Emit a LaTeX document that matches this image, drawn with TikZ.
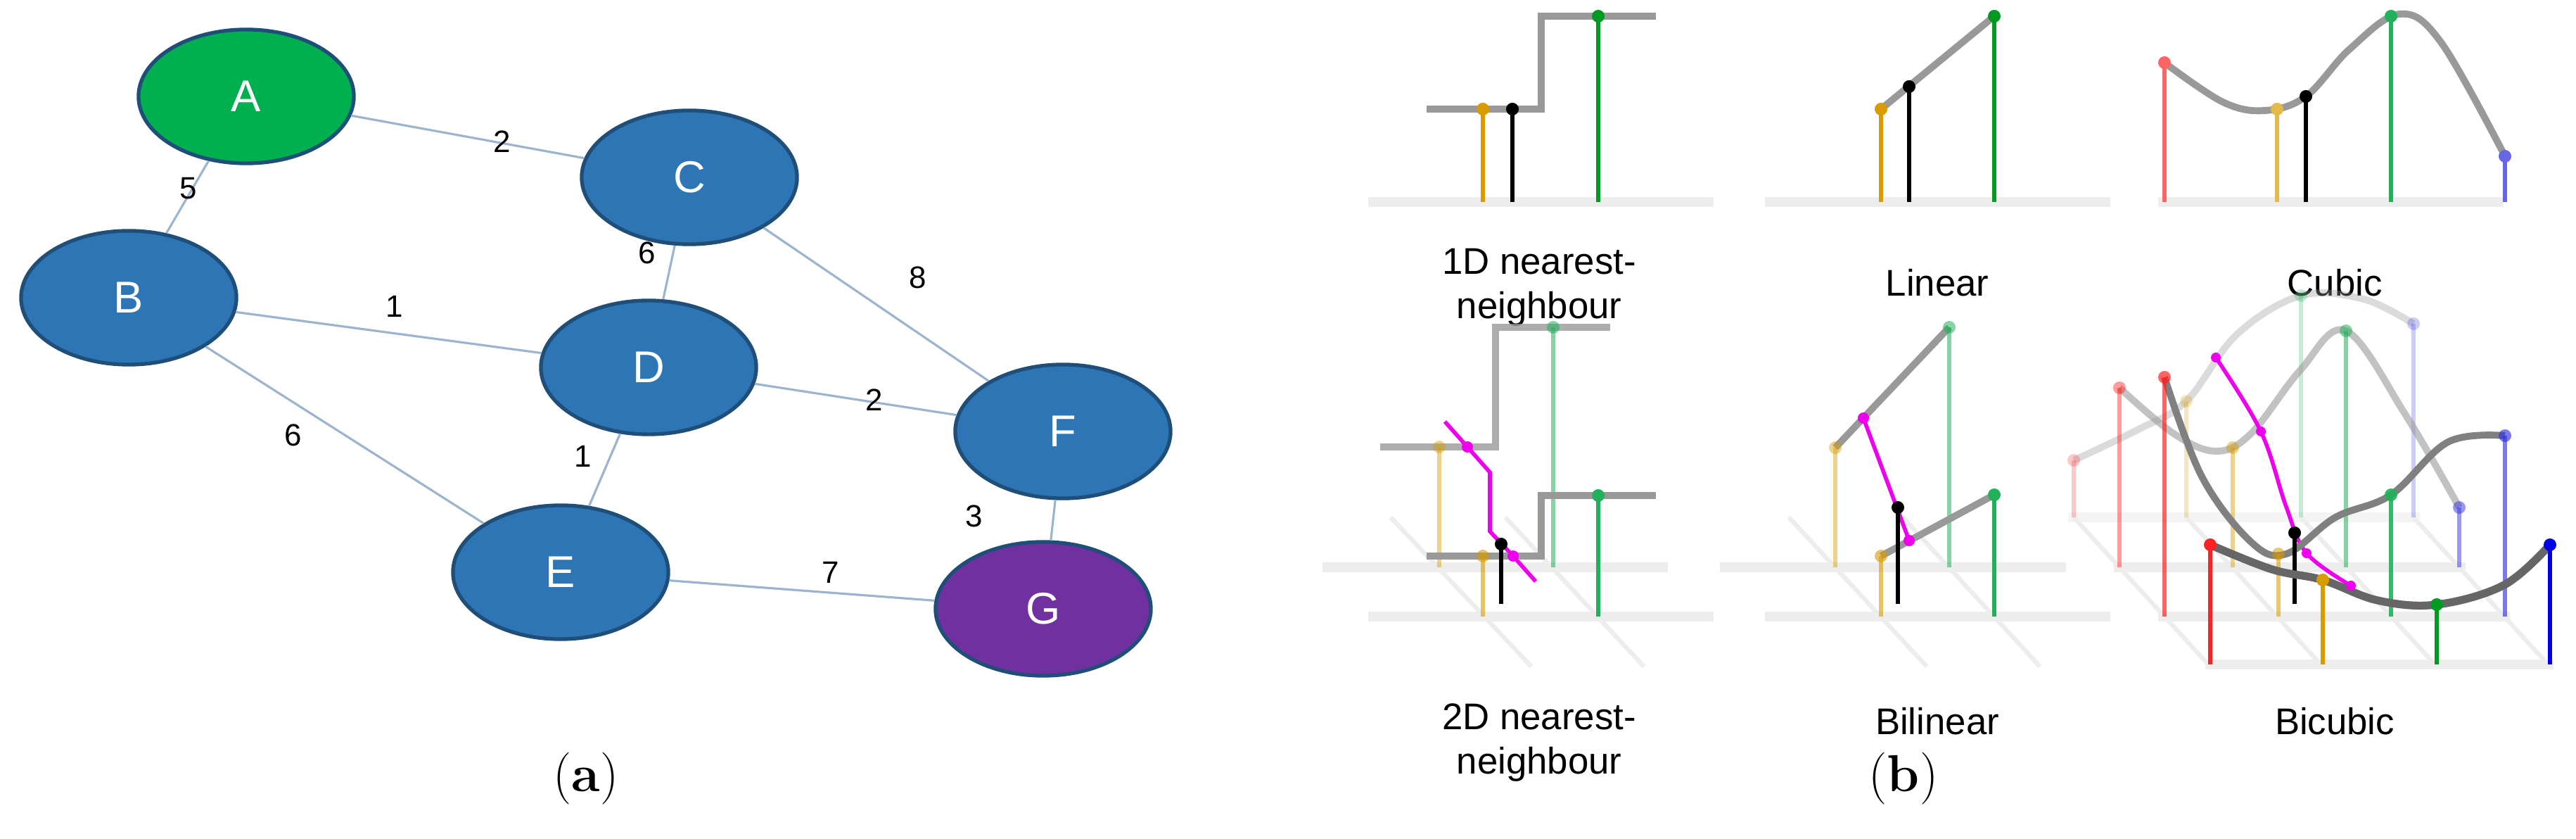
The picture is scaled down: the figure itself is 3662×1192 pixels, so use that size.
\documentclass[tikz,border=0pt]{standalone}
\usepackage{fontspec}
\setmainfont{Liberation Sans}
\usetikzlibrary{shapes.geometric}
\newfontfamily\lmserif{Latin Modern Roman}
\definecolor{nblue}{HTML}{2E75B6}
\definecolor{nborder}{HTML}{1F4E79}
\definecolor{ngreen}{HTML}{00B050}
\definecolor{npurple}{HTML}{7030A0}
\definecolor{edgec}{HTML}{9DB4CE}
\definecolor{cor}{HTML}{D89B00}
\definecolor{cgr}{HTML}{009922}
\definecolor{cgr2}{HTML}{22B05A}
\definecolor{cred}{HTML}{FF2222}
\definecolor{cblu}{HTML}{3333E0}
\definecolor{cmag}{HTML}{EE00EE}
\newcommand\mystem[5]{\draw[stem,#4,opacity=#5] (#1,#2) -- (#1,#3); \fill[#4,opacity=#5] (#1,#3) circle (9);}
\tikzset{
  gnode/.style={ellipse,draw=nborder,line width=1.5pt,fill=nblue,minimum width=3.06cm,minimum height=1.9cm,text=white,font=\fontsize{18}{18}\selectfont},
  gedge/.style={edgec,line width=0.9pt},
  elab/.style={font=\fontsize{12.5}{12.5}\selectfont,text=black},
  stem/.style={line width=1.6pt},
  base/.style={line width=4pt,black!7},
  floor/.style={line width=1.8pt,black!7},
  curve/.style={line width=2.8pt,black!40},
  blab/.style={font=\fontsize{15}{18}\selectfont,align=center},
  sublab/.style={font=\lmserif\fontsize{21}{21}\selectfont}
}
\begin{document}
\begin{tikzpicture}[x=0.01cm,y=-0.01cm]
\useasboundingbox (0,0) rectangle (3662,1192);
% ---------- panel (a)
\node[gnode,fill=ngreen] (A) at (350,137) {A};
\node[gnode] (C) at (980,252) {C};
\node[gnode] (B) at (183,423) {B};
\node[gnode] (D) at (922,522) {D};
\node[gnode] (F) at (1511,613) {F};
\node[gnode] (E) at (797,813) {E};
\node[gnode,fill=npurple] (G) at (1483,865) {G};
\draw[gedge] (A) -- (C);
\draw[gedge] (A) -- (B);
\draw[gedge] (C) -- (D);
\draw[gedge] (C) -- (F);
\draw[gedge] (B) -- (D);
\draw[gedge] (D) -- (F);
\draw[gedge] (B) -- (E);
\draw[gedge] (D) -- (E);
\draw[gedge] (F) -- (G);
\draw[gedge] (E) -- (G);
\node[elab] (l1) at (714,201) {2};
\node[elab] (l2) at (268,268) {5};
\node[elab] (l3) at (920,359) {6};
\node[elab] (l4) at (1305,394) {8};
\node[elab] (l5) at (561,435) {1};
\node[elab] (l6) at (1243,568) {2};
\node[elab] (l7) at (417,618) {6};
\node[elab] (l8) at (829,648) {1};
\node[elab] (l9) at (1385,733) {3};
\node[elab] (l10) at (1181,813) {7};
\node[sublab] (sa) at (833,1106) {(\textbf{a})};
\node[sublab] (sb) at (2706,1106) {(\textbf{b})};
% ---------- panel 1: 1D nearest
\draw[base] (1945,287) -- (2436,287);
\draw[curve] (2028,155) -- (2191,155) -- (2191,23) -- (2354,23);
\mystem{2108}{287}{155}{cor}{1}
\mystem{2150}{287}{155}{black}{1}
\mystem{2272}{287}{23}{cgr}{1}
\node[blab] (t1) at (2188,408) {1D nearest-\\neighbour};
% ---------- panel 2: linear
\draw[base] (2509,287) -- (3000,287);
\draw[curve] (2674,155) -- (2835,23);
\mystem{2674}{287}{155}{cor}{1}
\mystem{2714}{287}{123}{black}{1}
\mystem{2835}{287}{23}{cgr}{1}
\node[blab] (t2) at (2754,402) {Linear};
% ---------- panel 3: cubic
\draw[base] (3068,287) -- (3559,287);
\draw[curve] plot[smooth,tension=0.6] coordinates {(3077,89) (3160,145) (3220,157) (3278,137) (3340,70) (3411,20) (3470,60) (3561,222)};
\mystem{3077}{287}{89}{cred!70}{1}
\mystem{3237}{287}{155}{cor!70}{1}
\mystem{3278}{287}{137}{black}{1}
\mystem{3399}{287}{23}{cgr2}{1}
\mystem{3561}{287}{222}{cblu!75}{1}
\node[blab] (t3) at (3319,402) {Cubic};
% ---------- panel 4: 2D nearest
\draw[base] (1880,806) -- (2371,806);
\draw[base] (1945,876) -- (2436,876);
\draw[floor] (1977,735) -- (2177,947);
\draw[floor] (2140,735) -- (2337,947);
\draw[curve,opacity=0.8] (1962,635) -- (2126,635) -- (2126,465) -- (2289,465);
\mystem{2046}{806}{635}{cor}{0.45}
\mystem{2208}{806}{465}{cgr2}{0.55}
\draw[cmag,line width=1.6pt] (2054,599) -- (2086,635) -- (2118,671) -- (2118,755) -- (2151,790) -- (2183,826);
\fill[cmag] (2086,635) circle (8);
\draw[curve] (2028,790) -- (2191,790) -- (2191,704) -- (2354,704);
\mystem{2108}{876}{790}{cor}{0.6}
\mystem{2272}{876}{704}{cgr2}{1}
\fill[cmag] (2151,790) circle (8);
\mystem{2134}{858}{773}{black}{1}
\node[blab] (t4) at (2188,1055) {2D nearest-\\neighbour};
% ---------- panel 5: bilinear
\draw[base] (2445,806) -- (2937,806);
\draw[base] (2509,876) -- (3000,876);
\draw[floor] (2543,735) -- (2739,947);
\draw[floor] (2705,735) -- (2900,947);
\draw[curve] (2609,636) -- (2771,465);
\mystem{2609}{806}{636}{cor}{0.45}
\mystem{2771}{806}{465}{cgr2}{0.55}
\draw[curve] (2674,790) -- (2835,703);
\mystem{2674}{876}{790}{cor}{0.6}
\mystem{2835}{876}{703}{cgr2}{1}
\draw[cmag,line width=1.6pt] (2649,594) -- (2714,768);
\fill[cmag] (2649,594) circle (8);
\fill[cmag] (2714,768) circle (8);
\mystem{2698}{858}{721}{black}{1}
\node[blab] (t5) at (2754,1025) {Bilinear};
% ---------- panel 6: bicubic
\draw[base,opacity=0.6] (2940,735) -- (3440,735);
\draw[base] (3005,806) -- (3505,806);
\draw[base] (3068,876) -- (3568,876);
\draw[base] (3135,944) -- (3630,944);
\foreach \xa/\xb in {2948/3142, 3108/3302, 3271/3464, 3431/3625}
  \draw[floor] (\xa,735) -- (\xb,947);
% row 0
\draw[curve,opacity=0.35] plot[smooth,tension=0.6] coordinates {(2948,654) (3040,610) (3108,570) (3180,475) (3271,420) (3360,425) (3431,460)};
\mystem{2948}{735}{654}{cred}{0.25}
\mystem{3108}{735}{570}{cor}{0.25}
\mystem{3271}{735}{420}{cgr2}{0.25}
\mystem{3431}{735}{460}{cblu}{0.25}
% row 1
\draw[curve,opacity=0.6] plot[smooth,tension=0.6] coordinates {(3013,551) (3090,616) (3150,641) (3200,616) (3270,526) (3335,470) (3420,590) (3496,721)};
\mystem{3013}{806}{551}{cred}{0.45}
\mystem{3174}{806}{636}{cor}{0.45}
\mystem{3335}{806}{470}{cgr2}{0.55}
\mystem{3496}{806}{721}{cblu}{0.5}
% magenta
\draw[cmag,line width=1.6pt] plot[smooth,tension=0.6] coordinates {(3150,508) (3214,613) (3250,720) (3279,786) (3342,832)};
\fill[cmag] (3150,508) circle (7);
\fill[cmag] (3214,613) circle (7);
% row 2
\draw[curve,black!50] plot[smooth,tension=0.6] coordinates {(3077,536) (3130,677) (3200,770) (3250,787) (3320,735) (3399,703) (3480,628) (3561,619)};
\mystem{3077}{876}{536}{cred}{0.7}
\mystem{3239}{876}{787}{cor}{0.55}
\mystem{3399}{876}{703}{cgr2}{0.9}
\mystem{3561}{876}{619}{cblu}{0.65}
\fill[cmag] (3279,786) circle (7);
\mystem{3262}{858}{757}{black}{1}
% row 3
\draw[curve,black!60,line width=3.2pt] plot[smooth,tension=0.6] coordinates {(3142,774) (3230,809) (3302,824) (3380,853) (3464,859) (3560,831) (3625,774)};
\mystem{3142}{944}{774}{cred}{1}
\mystem{3302}{944}{824}{cor}{1}
\mystem{3464}{944}{859}{cgr}{1}
\mystem{3625}{944}{774}{blue!90!black}{1}
\fill[cmag] (3342,832) circle (7);
\node[blab] (t6) at (3319,1025) {Bicubic};
\end{tikzpicture}
\end{document}
